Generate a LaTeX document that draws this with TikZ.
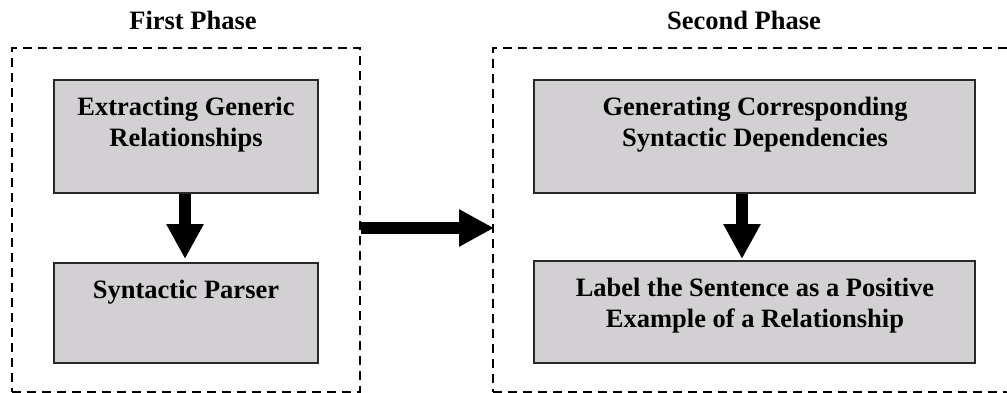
\documentclass[tikz,border=0pt]{standalone}
\usepackage{fontspec}
\setmainfont{Liberation Serif}
\usetikzlibrary{arrows.meta}
\definecolor{boxgray}{RGB}{211,208,211}
\definecolor{boxline}{RGB}{40,40,40}
\tikzset{
  phasebox/.style={draw=black, line width=2.4pt, dash pattern=on 9pt off 6pt},
  stagebox/.style={draw=boxline, fill=boxgray, line width=1.2pt, rectangle, inner sep=0pt},
  txt/.style={font=\bfseries\fontsize{26.5}{31}\selectfont, align=center, inner sep=0pt, anchor=north},
  ttl/.style={font=\bfseries\fontsize{26.5}{31}\selectfont, inner sep=0pt, anchor=base},
  bigarrow/.style={line width=12pt, -{Triangle[width=35pt,length=35pt]}, black},
}
\begin{document}
\begin{tikzpicture}[x=1pt,y=-1pt]
\useasboundingbox (0,0) rectangle (1007,393);
\begin{scope}
\clip (0,0) rectangle (1007,393);
% phase boxes
\node[phasebox, rectangle, minimum width=348pt, minimum height=344pt, inner sep=0pt] (p1) at (186,220) {};
\node[phasebox, rectangle, minimum width=520pt, minimum height=344pt, inner sep=0pt] (p2) at (753,220) {};
% titles
\node[ttl] (t1) at (193,30) {First Phase};
\node[ttl] (t2) at (744,30) {Second Phase};
% stage boxes
\node[stagebox, minimum width=264pt, minimum height=113pt] (a1) at (186,136.5) {};
\node[stagebox, minimum width=264pt, minimum height=100pt] (a2) at (186,313) {};
\node[stagebox, minimum width=441pt, minimum height=113pt] (b1) at (754.5,136.5) {};
\node[stagebox, minimum width=441pt, minimum height=102pt] (b2) at (754.5,312) {};
% texts
\node[txt] (a1t) at (186,97) {Extracting Generic\\Relationships};
\node[txt] (a2t) at (186,280) {Syntactic Parser};
\node[txt] (b1t) at (755,97) {Generating Corresponding\\Syntactic Dependencies};
\node[txt] (b2t) at (755,278) {Label the Sentence as a Positive\\Example of a Relationship};
% arrows
\coordinate (a2n) at (185,259);
\coordinate (b2n) at (742,259);
\draw[bigarrow] (a1.south -| a2n) -- (a2n);
\draw[bigarrow] (b1.south -| b2n) -- (b2n);
\coordinate (p2w) at (494,228);
\draw[bigarrow] (p1.east |- p2w) -- (p2w);
\end{scope}
\end{tikzpicture}
\end{document}
